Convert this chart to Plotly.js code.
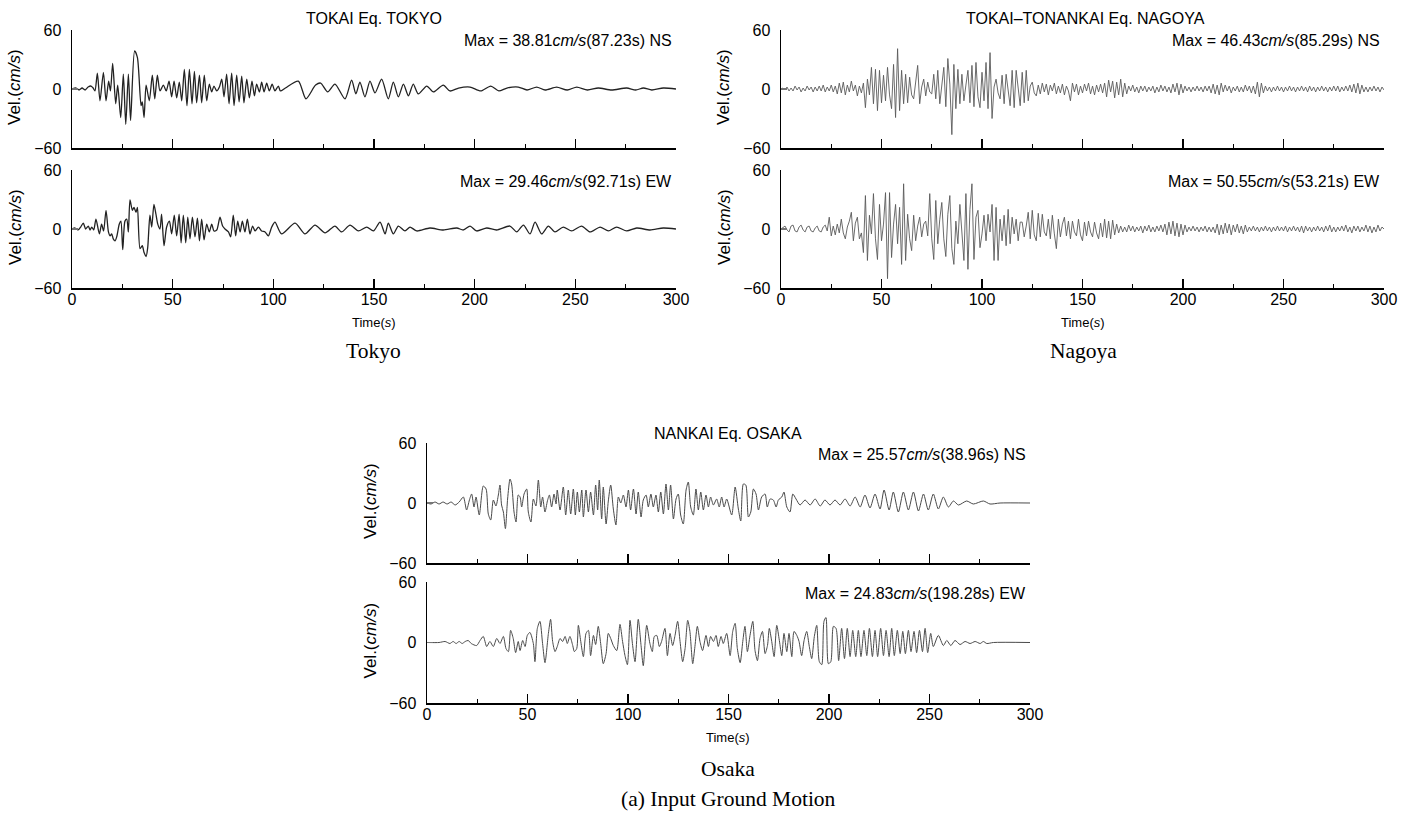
<!DOCTYPE html>
<html><head><meta charset="utf-8">
<script src="https://cdn.plot.ly/plotly-3.0.1.min.js"></script>
<style>html,body{margin:0;padding:0;background:#fff}#chart{width:1415px;height:838px}</style>
</head><body><div id="chart"></div>
<script>
// ---------------- DATA ----------------
// Time axis ticks
const timeTicks = [0, 50, 100, 150, 200, 250, 300];
const velTicks = [-60, 0, 60];
const velTickText = ['\u221260', '0', '60'];

// TOKYO NS: extrema times (s) and velocities (cm/s)
const tokyoNS_t = [0,2,3.5,5,6.5,8,9.5,10.5,11.4,12.6,13.9,15.6,16.9,18.2,19.1,20.2,21.7,22.7,24.2,25.5,26.7,28.0,29.1,31.1,32.5,34.3,34.9,35.8,36.8,38.4,39.9,41.1,42.4,43.7,45.4,46.8,48.2,49.5,50.7,52.0,53.3,54.5,55.8,57.1,58.3,59.6,60.8,61.9,63.3,64.4,65.7,66.9,68.2,69.4,70.5,71.9,73.2,74.4,75.5,76.8,78.0,79.3,80.5,81.8,83.0,84.3,85.4,86.8,88.1,89.4,90.6,91.7,93.1,94.2,95.4,96.7,98.0,99.4,100.8,102.5,103.5,106,112.4,116.2,121,123.5,127,130.6,135.6,138.9,141,143,145.5,148,150.5,153.8,157.1,159.6,162.1,164.6,167.1,169.5,172,176.2,179.5,184.4,187.7,192,197.7,203,208,212,216,221.7,226,230.8,235,240.7,246,250.7,256,261.4,268,275.5,280,283.8,288,293.7,300];
const tokyoNS_v = [0,1,-1,1,-1,2,3,1,-2,16,-12,17,-12,8,-2,26,-15,4,-29,15,-36,15,-32,38.8,32,-17,-13,-29,4,-12,14,-10,14,-2,4,-2,8,-8,8,-9,7,-12,20,-17,20,-15,18,-14,14,-14,14,-12,5,-3,3,-2,2,10,-8,15,-15,16,-17,14,-13,13,-14,10,-9,8,-7,5,-3,7,-3,6,-2,5,-2,3,-2,1,8,-10,4,6,-3,5,-10,9,-5,7,-8,8,-4,10,-10,7,-8,5,-7,5,-5,3,-3,4,-2,1,2,-2,3,-2,1,2,-1,2,-1,2,-1,2,-1,1,-1,1,-1,1,-1,1,0];

// TOKYO EW
const tokyoEW_t = [0,1.5,3,4.3,5.6,6.8,8.1,9.0,9.8,10.8,11.9,13.6,14.7,15.7,16.9,18.1,18.9,19.7,20.5,21.4,22.2,23.5,24.3,25.2,26.3,27.2,28.0,28.8,30.0,30.8,31.8,32.5,33.8,34.9,35.8,36.8,37.6,38.7,39.6,40.7,41.7,42.6,43.7,44.5,45.7,47.0,48.4,49.5,50.8,52.0,53.2,54.2,55.3,56.5,57.5,58.6,59.8,61.1,62.3,63.3,64.4,65.6,66.9,68.2,69.4,70.5,71.9,73.5,74.8,76.0,77.7,78.8,80.1,81.3,82.3,83.5,84.6,85.9,87.1,88.4,89.7,90.9,92.6,94.2,95.9,97.5,99.2,100.8,104.1,110.8,115.7,120.7,125.7,130.6,133.9,138.1,142.2,146.4,149.7,153.0,155.5,157.1,159.6,162.1,165.4,167.9,171.2,177.8,184.4,191.1,194.4,197.7,201,206,210.9,217.5,220.9,224.2,227.5,230,233.3,236.6,239.9,244,248.2,253.1,257.3,262.3,266.4,270.5,275.5,280.5,287.1,293.7,300];
const tokyoEW_v = [0,1,-1,2,6,0,3,-1,2,-1,10,-5,5,-2,19,-3,-7,-5,-10,-12,-8,5,8,-21,8,10,-3,29.5,19,22,17,22,-20,-17,-24,-28,-19,14,2,25,15,5,0,15,-17,2,8,-5,14,-7,15,-14,14,-14,12,-10,12,-8,11,-12,10,-11,5,-3,5,-2,-1,12,3,0,-3,-8,14,-7,8,-3,8,-3,10,-5,3,-2,2,-2,-3,-7,2,7,-5,6,-5,4,-4,3,-3,4,-2,2,-2,7,-5,6,-5,3,-2,2,-2,1,-1,1,-1,3,-2,1,-1,3,-3,4,-5,7,-5,3,-3,2,-2,3,-3,2,-2,2,-2,1,-1,1,0];

// NAGOYA NS: one value per second, t = 0..300 s
const nagoyaNS_v = [
 0,1,-1,2,-2,1,-2,3,-1,2,  -3,1,-2,3,-1,2,-3,2,-2,3,  -2,4,-3,2,-2,4,-3,3,-5,6,
 -4,7,-6,4,-3,8,-2,4,-7,3,  -4,6,-19,10,-6,22,-15,20,-22,19,  -14,14,-12,22,-6,-20,25,-29,41,-22,
 19,-15,15,-14,12,-6,-10,6,24,-15,  2,10,-7,7,-3,-5,15,-10,19,-15,  3,22,-18,31,5,-46.4,25,-20,20,-15,
 15,-12,4,19,-14,24,-18,27,-8,-19,  17,-12,27,-20,37,-30,2,10,-4,-10,  14,-15,15,-3,-17,19,-19,19,2,-17,
 17,-14,19,-12,3,7,-4,-7,4,-5,  6,-3,5,-6,4,-2,6,-5,3,-4,  5,-6,3,-2,-12,6,-3,5,-6,3,
 -4,5,-2,6,-5,3,-6,4,-3,5,  -4,6,-8,9,-3,8,-9,7,-6,10,  -8,6,-5,3,-2,4,-3,2,-4,3,
 -2,3,-3,2,-2,3,-4,2,-3,4,  -2,3,-3,2,-4,5,-3,6,-6,5,  -4,3,-2,2,-3,2,-2,3,-2,2,
 -3,3,-2,3,-4,5,-5,4,-6,6,  -3,4,-2,3,-4,2,-2,3,-3,2,  -3,4,-2,3,-4,3,-5,7,-8,6,
 -4,3,-2,2,-3,2,-2,3,-2,2,  -3,2,-2,3,-2,2,-3,2,-2,3,  -2,2,-3,3,-2,2,-3,2,-2,3,
 -2,2,-3,2,-2,3,-2,3,-3,2,  -2,3,-2,4,-3,5,-4,6,-5,4,  -3,2,-3,2,-2,3,-2,2,-3,2,
 -1];

// NAGOYA EW: one value per second, t = 0..300 s
const nagoyaEW_v = [
 0,2,3,-1,-3,3,4,-2,-3,2,  4,-1,-3,2,3,-2,-3,1,3,-2,  -3,2,4,-2,12,-7,3,-6,5,-4,
 10,-4,-10,2,8,17,-12,6,12,-10,  -4,-24,34,-32,14,-5,36,-10,-31,25,  -12,5,37,-50.5,37,-29,5,25,-15,22,
 -36,46,-32,15,-10,-22,14,-12,3,12,  -8,5,8,-7,36,-10,-31,29,-15,10,  27,-10,-28,15,34,-20,-36,8,-15,25,
 -8,-32,36,-41,20,46,-31,12,19,-19,  -5,14,-12,15,-3,25,-32,22,-32,10,  -12,14,-17,20,-15,12,-5,10,-12,7,
 7,-8,3,17,-10,19,-6,-12,16,-8,  15,-3,-7,10,-10,14,-5,-20,10,-8,  5,12,-7,8,-10,8,-3,-7,10,-6,
 -12,7,-7,8,-3,-8,7,-4,-10,6,  -8,10,-9,8,-10,9,-6,5,-4,3,  -3,2,-3,4,-2,3,-3,2,-2,3,
 -4,3,-2,4,-3,2,-3,3,-2,4,  -3,5,-6,7,-5,8,-7,6,-8,5,  -6,4,-3,2,-2,3,-2,2,-3,2,
 -2,3,-3,2,-3,2,-4,5,-6,4,  -5,6,-4,5,-6,4,-3,5,-4,3,  -5,4,-3,2,-2,3,-2,2,-3,2,
 -2,3,-2,2,-3,2,-2,3,-2,2,  -2,3,-3,2,-2,3,-2,2,-3,3,  -4,3,-2,2,-3,2,-2,3,-2,2,
 -3,3,-2,4,-3,2,-3,2,-2,3,  -2,4,-3,2,-4,3,-2,3,-3,2,  -2,4,-3,3,-4,2,-3,4,-2,2,
 0];

// OSAKA NS: extrema times (s) and velocities (cm/s)
const osakaNS_t = [0,2,4,6,8,10,12,14,16,
 18.1,19.7,21.1,22.2,23.4,24.4,26.0,28.0,29.4,30.5,
 31.7,33.0,34.3,35.5,36.3,37.1,38.0,39.0,40.1,41.3,
 42.1,43.3,44.3,45.4,46.3,47.1,48.3,49.6,50.4,51.7,
 52.9,54.2,55.4,56.6,57.5,58.7,59.9,60.9,62.0,63.2,
 64.2,64.8,66.2,67.8,69.0,70.3,71.5,72.8,73.8,74.8,
 75.8,77.0,77.8,79.1,80.3,81.4,82.8,83.9,84.9,85.7,
 86.9,87.7,89.1,90.2,91.4,92.7,94.0,95.2,96.4,97.7,
 99.0,100.2,101.3,102.7,104.0,105.1,106.5,107.6,109.0,110.1,
 111.4,112.6,113.9,115.1,116.3,117.6,118.9,120.1,121.2,122.6,
 123.9,125.0,126.2,127.5,128.9,130.0,131.2,132.5,133.8,135.0,
 136.2,137.5,138.8,140.0,141.1,142.5,144.1,145.4,146.6,147.8,
 149.1,151.6,153.3,154.9,156.1,157.4,158.6,159.9,161.1,162.4,
 163.7,164.9,166.5,168.2,169.3,170.7,172.3,173.7,174.8,176.5,
 177.6,179.0,180.6,182.0,183.6,185.6,188.1,190.6,193.1,195.6,
 198.0,200.5,203.0,205.5,208.0,210.5,213.0,215.5,217.9,220.4,
 222.9,225.4,227.4,229.9,232.0,234.5,237.0,239.5,242.0,244.5,
 247.0,249.4,251.9,254.4,256.9,259.4,261.9,264.4,268.5,271.8,
 276.8,280.1,285.1,300];
const osakaNS_v = [0,-1,1,-1,1,-1,1,-2,1,
 6,-7,3,9,-4,6,-12,17,14,-11,
 -17,3,-3,8,18,-2,-9,-25.6,4,24,
 19,-9,-19,8,6,-4,9,14,-9,-19,
 4,-3,23,-4,6,-9,2,8,-4,9,
 -1,13,-7,16,-12,13,-11,14,-12,11,
 -9,13,-14,13,-9,11,-12,18,-7,23,
 -16,16,-21,2,18,-6,-22,6,0,8,
 -4,13,-7,14,-11,11,-14,3,8,-4,
 9,-4,8,-9,11,-11,19,-7,18,-16,
 4,9,-12,-21,13,21,-4,-12,14,-7,
 11,-7,8,-4,6,-2,4,-4,6,-4,
 4,-12,16,-6,-18,19,18,-14,-9,14,
 9,-7,6,9,-4,4,3,-4,3,6,
 11,-4,-9,9,4,-2,3,-2,4,-3,
 3,-2,3,-2,4,-3,6,-4,8,-5,
 9,-6,13,-7,11,-9,11,-7,11,-8,
 9,-7,9,-6,6,-4,2,-2,2,-1,
 2,-1,0,0];

// OSAKA EW
const osakaEW_t = [0,6,9,11.4,13,14.5,16,17.5,19,20.5,
 22,24.7,26.4,28.0,29.7,31.3,33.0,34.7,36.3,38.0,
 39.3,40.5,41.6,42.9,44.1,45.4,46.3,47.6,48.8,49.9,
 51.2,52.9,53.7,54.9,56.2,57.5,58.7,60.4,61.5,62.5,
 63.7,64.8,66.2,67.5,68.7,69.8,71.1,72.5,73.3,74.5,
 75.3,76.5,77.8,79.1,80.3,81.4,82.8,83.9,85.2,86.4,
 87.7,89.1,90.2,91.4,92.7,94.4,96.0,97.3,98.5,99.7,
 101.0,102.2,103.5,105.1,106.5,107.6,109.3,110.9,112.1,113.1,
 114.3,115.6,116.7,118.4,119.6,120.9,122.2,123.4,124.7,125.9,
 127.2,128.4,129.7,130.8,132.2,133.3,134.5,135.8,137.1,138.8,
 140.0,141.1,142.5,143.8,144.9,146.3,147.4,149.1,150.8,152.1,
 153.3,154.4,155.8,157.1,158.2,159.4,160.7,162.1,163.2,164.4,
 165.7,166.9,168.2,169.4,170.3,171.5,172.7,174.0,175.3,176.5,
 177.6,179.0,180.1,181.5,182.6,184.0,185.1,186.4,187.6,188.9,
 190.2,191.4,192.7,193.9,195.2,196.4,197.5,198.5,199.7,200.9,
 202.2,203.5,204.8,206.3,207.7,209.1,210.5,211.8,213.3,214.6,
 215.9,217.4,218.8,220.1,221.6,222.9,224.2,225.7,227.1,228.4,
 229.9,231.2,232.5,234.0,235.4,236.7,238.0,239.5,240.8,242.3,
 243.6,245.0,246.5,247.8,249.1,250.6,251.9,254.4,256.9,
 258.6,260.6,262.7,265.2,267.7,270.2,272.7,275.2,276.8,278.5,
 281.8,300];
const osakaEW_v = [0,0,1,-1,1,-1,1,-1,1,2,
 -1,-3,2,6,-4,1,-4,4,-1,6,
 -6,-9,12,4,-10,1,-8,2,-4,7,
 10,-1,-19,14,21,-1,-20,9,23,1,
 -9,-4,4,1,6,-1,6,-3,-9,-6,
 17,1,-14,9,12,-13,7,-2,16,-1,
 -21,-11,9,4,-3,-8,18,1,-13,-22,
 22,-1,-19,23,-3,-23,17,-1,-9,6,
 7,-4,1,14,-13,9,-3,7,21,1,
 -19,-6,22,11,-21,-4,16,1,-8,7,
 -4,6,1,7,-4,6,-1,9,-13,11,
 19,-6,-20,1,16,-9,7,21,-8,-18,
 4,11,-11,-3,14,1,-14,17,2,-13,
 9,-9,9,-14,11,7,1,-13,2,11,
 -4,-16,6,17,-19,-22,21,24.8,-21,-19,
 16,14,-18,14,-16,14,-14,12,-14,12,
 -14,12,-13,14,-14,12,-14,14,-13,12,
 -14,14,-13,12,-11,11,-11,12,-9,11,
 -10,12,-9,14,-10,9,-4,7,-3,
 2,-3,2,-2,1,-1,1,-1,1,-1,
 0,0];

// Text
const titles = ['TOKAI Eq. TOKYO', 'TOKAI\u2013TONANKAI Eq. NAGOYA', 'NANKAI Eq. OSAKA'];
const maxLabels = [
 'Max = 38.81<i>cm/s</i>(87.23s) NS', 'Max = 29.46<i>cm/s</i>(92.71s) EW',
 'Max = 46.43<i>cm/s</i>(85.29s) NS', 'Max = 50.55<i>cm/s</i>(53.21s) EW',
 'Max = 25.57<i>cm/s</i>(38.96s) NS', 'Max = 24.83<i>cm/s</i>(198.28s) EW'];
const cityNames = ['Tokyo', 'Nagoya', 'Osaka'];
const caption = '(a) Input Ground Motion';

// ---------------- LAYOUT ----------------
const W = 1415, H = 838;
const SANS = 'Liberation Sans, Arial, Helvetica, sans-serif';
const SERIF = 'Liberation Serif, Times New Roman, serif';
const px = x => x / W, py = y => 1 - y / H;

// panel geometry in pixels: [left, right], [top, bottom]
const panels = [
 {tx: tokyoNS_t, ty: tokyoNS_v, xr: [72, 676], yr: [30, 148], bottom: false, col: '#222', w: 1.3},
 {tx: tokyoEW_t, ty: tokyoEW_v, xr: [72, 676], yr: [170, 288], bottom: true, col: '#222', w: 1.3},
 {ty: nagoyaNS_v, xr: [781, 1384], yr: [30, 148], bottom: false, col: '#5a5a5a', w: 0.9},
 {ty: nagoyaEW_v, xr: [781, 1384], yr: [170, 288], bottom: true, col: '#5a5a5a', w: 0.9},
 {tx: osakaNS_t, ty: osakaNS_v, xr: [427, 1030], yr: [443, 563], bottom: false, col: '#4a4a4a', w: 1.0},
 {tx: osakaEW_t, ty: osakaEW_v, xr: [427, 1030], yr: [582, 703], bottom: true, col: '#4a4a4a', w: 1.0}
];

const traces = [];
const layout = {
 width: W, height: H, margin: {l: 0, r: 0, t: 0, b: 0},
 paper_bgcolor: '#fff', plot_bgcolor: 'rgba(0,0,0,0)', showlegend: false,
 annotations: []
};

panels.forEach((p, i) => {
 const n = i + 1, sx = n === 1 ? '' : String(n);
 const tr = {type: 'scatter', mode: 'lines', y: p.ty, xaxis: 'x' + sx, yaxis: 'y' + sx,
  line: {color: p.col, width: p.w}, hoverinfo: 'skip'};
 if (p.tx) { tr.x = p.tx; tr.line.shape = 'spline'; tr.line.smoothing = 0.7; }
 else { tr.x0 = 0; tr.dx = 1; }
 traces.push(tr);
 layout['xaxis' + sx] = {
  domain: [px(p.xr[0]), px(p.xr[1])], anchor: 'y' + sx, range: [0, 300],
  showline: true, linecolor: '#000', linewidth: 2, showgrid: false, zeroline: false,
  tickmode: 'array', tickvals: timeTicks, ticks: 'inside', ticklen: 9, tickwidth: 1.2, tickcolor: '#000',
  minor: {tickmode: 'linear', tick0: 0, dtick: 25, ticks: 'inside', ticklen: 4, tickwidth: 1, tickcolor: '#000', showgrid: false},
  showticklabels: p.bottom, ticklabelstandoff: -4,
  tickfont: {family: SANS, size: 16, color: '#000'}, fixedrange: true
 };
 layout['yaxis' + sx] = {
  domain: [py(p.yr[1]), py(p.yr[0])], anchor: 'x' + sx, range: [-60, 60],
  showline: true, linecolor: '#000', linewidth: 1.5, showgrid: false, zeroline: false,
  tickmode: 'array', tickvals: velTicks, ticktext: velTickText,
  ticks: 'inside', ticklen: 6, tickwidth: 1.5, tickcolor: '#777', ticklabelstandoff: 6,
  tickfont: {family: SANS, size: 16, color: '#000'}, fixedrange: true
 };
 // y axis title
 layout.annotations.push({xref: 'paper', yref: 'paper', x: px(p.xr[0] - 57), y: py((p.yr[0] + p.yr[1]) / 2 - 2),
  text: 'Vel.(<i>cm/s</i>)', textangle: -90, showarrow: false, xanchor: 'center', yanchor: 'middle',
  font: {family: SANS, size: 17, color: '#000'}});
 // max label
 layout.annotations.push({xref: 'paper', yref: 'paper', x: px(p.xr[1] - 2), y: py(p.yr[0] + 11),
  text: maxLabels[i], showarrow: false, xanchor: 'right', yanchor: 'middle',
  font: {family: SANS, size: 16, color: '#000'}});
 if (p.bottom) {
  layout.annotations.push({xref: 'paper', yref: 'paper', x: px((p.xr[0] + p.xr[1]) / 2), y: py(p.yr[1] + 34),
   text: 'Time(<i>s</i>)', showarrow: false, xanchor: 'center', yanchor: 'middle',
   font: {family: SANS, size: 13, color: '#000'}});
 }
});

// plot titles and city labels
const groupCenters = [[374, 18, 351], [1085, 18, 351], [728, 433, 769]];
groupCenters.forEach((g, k) => {
 layout.annotations.push({xref: 'paper', yref: 'paper', x: px(g[0]), y: py(g[1]), text: titles[k],
  showarrow: false, xanchor: 'center', yanchor: 'middle', font: {family: SANS, size: 16, color: '#000'}});
 layout.annotations.push({xref: 'paper', yref: 'paper', x: px(k === 1 ? 1083 : g[0]), y: py(g[2]), text: cityNames[k],
  showarrow: false, xanchor: 'center', yanchor: 'middle', font: {family: SERIF, size: 21.5, color: '#000'}});
});
layout.annotations.push({xref: 'paper', yref: 'paper', x: px(728), y: py(799), text: caption,
 showarrow: false, xanchor: 'center', yanchor: 'middle', font: {family: SERIF, size: 21.5, color: '#000'}});

Plotly.newPlot('chart', traces, layout, {displayModeBar: false, staticPlot: true});
</script></body></html>
